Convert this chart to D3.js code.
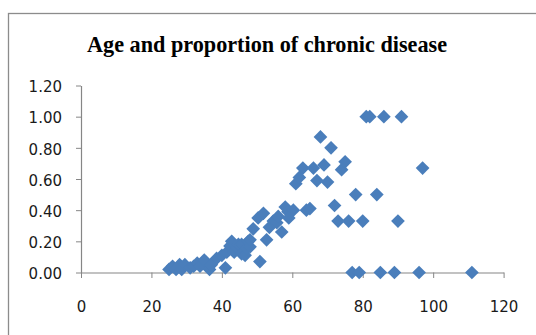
<!DOCTYPE html>
<html>
<head>
<meta charset="utf-8">
<script src="https://cdn.jsdelivr.net/npm/d3@7"></script>
<style>
  html, body { margin: 0; padding: 0; background: #fff; }
  svg { display: block; }
</style>
</head>
<body>
<svg id="chart" width="536" height="335"></svg>
<script>
const title = "Age and proportion of chronic disease";
const ages = [25,26,27,28,28.6,29.5,31,32,33,33.8,35,36.5,37,38.5,40,41,41.4,42.3,42.8,43.5,44.2,44.7,45.6,45.6,46.6,47,47.5,48,48,48.9,50.3,50.8,51.8,52.7,53.5,54.6,55.6,56,57,58,58.8,59,60.3,61,62,63,64,65,66,67,68,69,70,71,72,73,74,75,76,77,78,79,80,81,82,84,85,86,89,90,91,96,97,111];
const proportions = [0.02,0.04,0.02,0.05,0.02,0.05,0.03,0.04,0.06,0.04,0.08,0.02,0.05,0.09,0.11,0.03,0.13,0.17,0.20,0.13,0.16,0.18,0.18,0.12,0.11,0.155,0.20,0.165,0.21,0.28,0.35,0.07,0.38,0.21,0.29,0.33,0.32,0.36,0.26,0.42,0.39,0.35,0.40,0.57,0.61,0.67,0.40,0.41,0.67,0.59,0.87,0.69,0.58,0.80,0.43,0.33,0.66,0.71,0.33,0,0.50,0,0.33,1,1,0.50,0,1,0,0.33,1,0,0.67,0];
const xTicks = [0,20,40,60,80,100,120];
const yTicks = [0,0.2,0.4,0.6,0.8,1.0,1.2];

const svg = d3.select("#chart");
const axisColor = "#868686";

// outer chart border
svg.append("rect").attr("x", 8.5).attr("y", 13.5).attr("width", 560).attr("height", 360)
  .attr("fill", "#fff").attr("stroke", "#8c8c8c").attr("stroke-width", 1.3);

svg.append("text").attr("x", 267).attr("y", 51.7).attr("text-anchor", "middle")
  .attr("font-family", "'Liberation Serif', 'Times New Roman', serif")
  .attr("font-weight", "bold").attr("font-size", 23)
  .attr("textLength", 360).attr("lengthAdjust", "spacingAndGlyphs")
  .attr("fill", "#000").text(title);

const x = d3.scaleLinear().domain([0, 120]).range([81, 503.6]);
const y = d3.scaleLinear().domain([0, 1.2]).range([272.5, 85.5]);

const fmt = d3.format(".2f");

const gx = svg.append("g").attr("transform", `translate(0,${y(0)})`)
  .call(d3.axisBottom(x).tickValues(xTicks).tickSize(5.5).tickSizeOuter(0).tickFormat(d3.format("d")));
gx.selectAll("text").attr("y", 39.5).attr("dy", 0);

const gy = svg.append("g").attr("transform", `translate(${x(0)},0)`)
  .call(d3.axisLeft(y).tickValues(yTicks).tickSize(5).tickSizeOuter(0).tickPadding(14).tickFormat(fmt));
gy.selectAll("text").attr("dy", "0.42em");

[gx, gy].forEach(g => {
  g.select(".domain").attr("stroke", axisColor).attr("stroke-width", 1.2);
  g.selectAll(".tick line").attr("stroke", axisColor).attr("stroke-width", 1);
  g.selectAll("text").attr("font-family", "'DejaVu Sans', sans-serif")
    .attr("font-size", 15).attr("fill", "#1a1a1a");
});

const pts = ages.map((a, i) => ({ age: a, p: proportions[i] }));
const diamond = d3.symbol().type(d3.symbolSquare).size(94);
svg.append("g").selectAll("path").data(pts).join("path")
  .attr("d", diamond)
  .attr("transform", d => `translate(${x(d.age)},${y(d.p)}) rotate(45)`)
  .attr("fill", "#4a7ebb");
</script>
</body>
</html>
